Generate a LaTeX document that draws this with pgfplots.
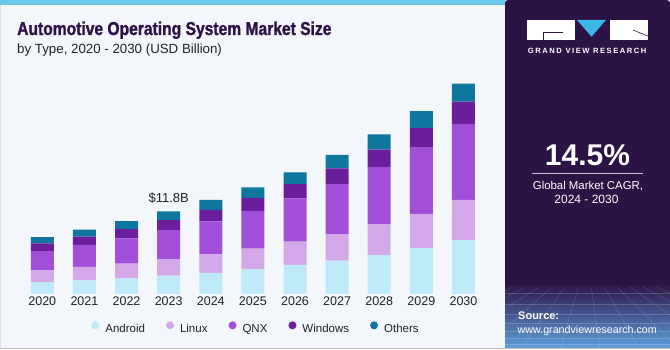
\documentclass[border=0pt]{standalone}
\usepackage{pgfplots}
\usepackage{pgfplotstable}
\pgfplotsset{compat=1.18}
\usepackage{fontspec}
\setmainfont{Liberation Sans}
\newfontfamily\titlefont[FakeStretch=0.84, BoldFeatures={FakeBold=1.3}]{Liberation Sans}
\newfontfamily\gvrfont[LetterSpace=20]{Liberation Sans}

\definecolor{android}{HTML}{BDE9F9}
\definecolor{linux}{HTML}{D3A7E8}
\definecolor{qnx}{HTML}{A14FD8}
\definecolor{windows}{HTML}{6A1E9C}
\definecolor{others}{HTML}{0F779E}
\definecolor{titlecol}{HTML}{2E1147}
\definecolor{leftbg}{HTML}{F3F6FA}
\definecolor{panel}{HTML}{2C1345}
\definecolor{strip}{HTML}{6CC6EA}
\definecolor{gvrblue}{HTML}{5E9FDA}
\definecolor{logoblue}{HTML}{3DB7EA}
\definecolor{textcol}{HTML}{222222}

\pgfplotstableread{
x A L Q W O
0 1.71 1.71 2.71 1.10 0.90
1 1.96 1.90 3.14 1.18 1.00
2 2.24 2.08 3.62 1.33 1.14
3 2.61 2.38 4.14 1.43 1.24
4 3.00 2.67 4.71 1.61 1.43
5 3.52 2.94 5.42 1.81 1.53
6 4.14 3.32 6.19 2.04 1.67
7 4.75 3.81 7.14 2.24 1.90
8 5.57 4.38 8.18 2.47 2.20
9 6.56 4.89 9.52 2.75 2.38
10 7.71 5.71 10.85 3.18 2.57
}\data

\begin{document}
\begin{tikzpicture}[x=1pt,y=1pt]
\useasboundingbox (0,0) rectangle (670,350);
\fill[white] (0,0) rectangle (670,350);
% left panel
\fill[leftbg, draw=black!12] (0.5,2) rectangle (505,349.5);
\fill[strip] (0,345) rectangle (505,350);
% right panel
\fill[panel, rounded corners=3pt] (505,2) rectangle (670,350);
\shade[top color=panel, bottom color=gvrblue] (505,2) rectangle (670,67);
\begin{scope}
\clip (505,2) rectangle (670,62);
\foreach \yy in {6,12,19,27,36,46,57} {\draw[white, opacity=0.18, line width=0.4pt] (505,\yy) -- (670,\yy);}
\foreach \xx in {-200,-160,...,800} {\draw[white, opacity=0.18, line width=0.4pt] (587+0.25*\xx-0.25*587,70) -- (\xx,0);}
\end{scope}
\draw[black!25] (0,2) -- (670,2);
% logo
\fill[white] (526.7,310) rectangle (575,330);
\fill[logoblue] (577,330) -- (606,330) -- (591.5,313.3) -- cycle;
\fill[white] (610,310) rectangle (647.7,330);
\draw[panel, line width=0.8pt] (563,317.7) -- (543,317.7) -- (543,310);
\draw[panel, line width=0.6pt] (633,320) -- (647.7,314);
\node[white, anchor=base, inner sep=0pt] at (587.2,296) {\gvrfont\fontsize{7.6}{9}\selectfont\bfseries GRAND VIEW RESEARCH};
% CAGR
\node[white, anchor=base, inner sep=0pt] at (587.5,184.3) {\fontsize{30}{34}\selectfont\bfseries 14.5\%};
\draw[white!75!panel, line width=0.9pt] (531.7,176.7) -- (642.7,176.7);
\node[white, anchor=base, inner sep=0pt] at (588,160) {\fontsize{11.4}{13}\selectfont Global Market CAGR,};
\node[white, anchor=base, inner sep=0pt] at (586.5,146) {\fontsize{12}{14}\selectfont 2024 - 2030};
\node[white, anchor=base west, inner sep=0pt] at (518,30.7) {\fontsize{11}{13}\selectfont\bfseries Source:};
\node[white, anchor=base west, inner sep=0pt] at (517.5,16.7) {\fontsize{10.7}{13}\selectfont www.grandviewresearch.com};
% titles
\node[titlecol, anchor=base west, inner sep=0pt] at (17,315) {\titlefont\fontsize{18.6}{22}\selectfont\bfseries Automotive Operating System Market Size};
\node[textcol, anchor=base west, inner sep=0pt] at (17,296.7) {\fontsize{13.3}{15}\selectfont by Type, 2020 - 2030 (USD Billion)};

\begin{axis}[
  at={(21.24pt,56pt)}, anchor=south west,
  scale only axis, width=463.3pt, height=224.2pt,
  xmin=-0.5, xmax=10.5, ymin=0, ymax=32,
  ybar stacked, bar width=23pt,
  axis line style={draw=none},
  ytick=\empty, xtick={0,...,10},
  xticklabels={2020,2021,2022,2023,2024,2025,2026,2027,2028,2029,2030},
  major tick length=0pt,
  xticklabel style={font=\fontsize{12.5}{14}\selectfont, text=textcol, anchor=north, inner sep=0pt, yshift=-2.6pt},
  /pgf/number format/assume math mode=true,
  clip=false,
  legend columns=5,
  legend image code/.code={\fill[#1, draw=none] (0pt,3.8pt) circle (4pt);},
  legend style={at={(0.5046,-0.1503)}, anchor=center, draw=none, fill=none,
    font=\fontsize{11.5}{13}\selectfont, text=textcol, nodes={inner sep=0pt},
    /tikz/every odd column/.style={column sep=6pt},
    /tikz/every even column/.style={column sep=21pt}},
]
\addplot[fill=android, draw=none] table[x=x, y=A] {\data};
\addplot[fill=linux, draw=none] table[x=x, y=L] {\data};
\addplot[fill=qnx, draw=none] table[x=x, y=Q] {\data};
\addplot[fill=windows, draw=none] table[x=x, y=W] {\data};
\addplot[fill=others, draw=none] table[x=x, y=O] {\data};
\legend{Android, Linux, QNX, Windows, Others}
\node[anchor=base, inner sep=0pt, text=textcol, font=\fontsize{13}{15}\selectfont] at (axis cs:3,11.8) [yshift=9pt] {\$11.8B};
\end{axis}
\end{tikzpicture}
\end{document}
